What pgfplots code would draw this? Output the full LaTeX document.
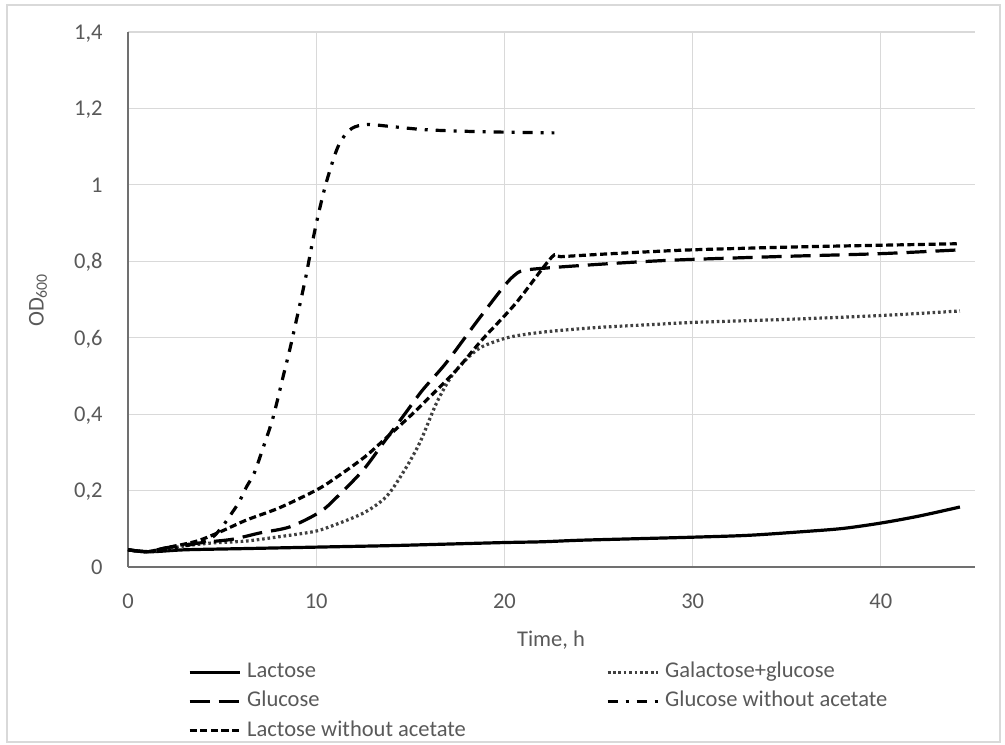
\documentclass[border=0pt]{standalone}
\usepackage{fontspec}
\setmainfont{Carlito}
\usepackage{pgfplots}
\pgfplotsset{compat=1.18}

\definecolor{txtgray}{HTML}{595959}
\definecolor{gridgray}{HTML}{D9D9D9}
\definecolor{axisgray}{HTML}{707070}

% growth curves: time (h) vs optical density at 600 nm
\pgfplotstableread{
t OD
0 0.045
1.2 0.040
3 0.045
6 0.048
9 0.051
11 0.053
14 0.056
17 0.060
20 0.064
22 0.066
24 0.070
27 0.074
30 0.078
33 0.083
36 0.093
38 0.101
40 0.115
42 0.133
44.2 0.157
}\lactose

\pgfplotstableread{
t OD
0 0.045
1 0.040
2 0.047
3 0.055
4.5 0.063
6.3 0.068
8.0 0.079
9.8 0.092
10.7 0.105
12.5 0.141
13.7 0.183
14.6 0.246
15.5 0.325
16.4 0.43
17.2 0.50
18.0 0.545
18.8 0.576
20.0 0.598
21.0 0.608
22.5 0.617
25 0.627
27.7 0.634
30 0.640
35 0.648
40 0.658
44.2 0.670
}\galglu

\pgfplotstableread{
t OD
0 0.045
1 0.040
2 0.050
3 0.058
4.35 0.066
5.6 0.073
7.0 0.089
8.6 0.105
10.2 0.144
11.1 0.183
12.5 0.254
13.6 0.327
14.7 0.400
15.65 0.463
16.9 0.534
18.5 0.640
19.9 0.730
20.5 0.762
21.0 0.776
22.4 0.783
25 0.792
27.7 0.800
30 0.805
35 0.813
40 0.820
44.2 0.830
}\glucose

\pgfplotstableread{
t OD
0 0.045
1 0.040
2 0.045
3 0.055
4 0.066
4.5 0.078
5.0 0.105
5.5 0.140
5.9 0.170
6.3 0.210
6.7 0.245
7.2 0.315
7.7 0.390
8.2 0.490
8.6 0.570
9.1 0.680
9.45 0.760
9.8 0.850
10.1 0.920
10.5 1.000
11.0 1.080
11.35 1.118
11.9 1.148
12.7 1.158
14.1 1.152
15.9 1.144
18.8 1.139
22.65 1.136
}\glunoac

\pgfplotstableread{
t OD
0 0.045
1 0.040
2 0.050
3 0.060
3.8 0.070
4.9 0.092
6.3 0.123
8.0 0.154
9.8 0.196
10.7 0.222
12.5 0.285
13.7 0.337
15.1 0.400
16.4 0.463
17.5 0.518
18.8 0.594
20.6 0.690
22.5 0.810
23 0.812
25 0.818
27.7 0.825
30 0.830
35 0.837
40 0.842
44.2 0.846
}\lacnoac

\begin{document}
\begin{tikzpicture}
\useasboundingbox (0,0) rectangle (502.5bp,372.5bp);
% chart frame
\draw[gridgray, line width=0.6bp] (3.5bp,1.5bp) rectangle (500bp,370bp);

\begin{axis}[
  at={(64bp,89bp)}, anchor=south west,
  scale only axis, width=423.5bp, height=267.5bp,
  xmin=0, xmax=45, ymin=0, ymax=1.4,
  axis lines*=left,
  axis line style={draw=axisgray, line width=0.8bp},
  xtick={0,10,20,30,40},
  ytick={0,0.2,0.4,0.6,0.8,1,1.2,1.4},
  yticklabels={0,{0,2},{0,4},{0,6},{0,8},1,{1,2},{1,4}},
  major tick length=0pt,
  tick style={draw=none},
  grid=major,
  major grid style={draw=gridgray, line width=0.6bp},
  font=\fontsize{11.3pt}{13.5pt}\selectfont,
  /pgf/number format/assume math mode=true,
  xticklabel style={anchor=north, inner sep=0pt, yshift=-13bp, text=txtgray},
  yticklabel style={anchor=east, inner sep=0pt, xshift=-12.5bp, text depth=0pt, text=txtgray},
  legend columns=2,
  legend cell align=left,
  legend style={
    at={(rel axis cs:0.0708,-0.1770)}, anchor=north west,
    draw=none, fill=none, inner sep=0pt, outer sep=0pt,
    row sep=4.1bp,
    nodes={inner sep=0pt, text height=8bp, text depth=2.5bp, text=txtgray},
    font=\fontsize{11.3pt}{13.5pt}\selectfont,
    /tikz/every odd column/.append style={column sep=3bp},
    /tikz/every even column/.append style={column sep=70bp},
  },
  legend image code/.code={\draw[#1] plot coordinates {(0bp,0bp) (25bp,0bp)};},
  every axis plot/.append style={line width=1.6bp, smooth, tension=0.5},
  clip=false,
]
\addplot[black] table[x=t, y=OD] {\lactose};
\addlegendentry{Lactose}
\addplot[black!75, dash pattern=on 1.3bp off 1.4bp] table[x=t, y=OD] {\galglu};
\addlegendentry{Galactose+glucose}
\addplot[black, dash pattern=on 10bp off 4.5bp] table[x=t, y=OD] {\glucose};
\addlegendentry{Glucose}
\addplot[black, dash pattern=on 5bp off 4bp on 1.5bp off 4bp] table[x=t, y=OD] {\glunoac};
\addlegendentry{Glucose without acetate}
\addplot[black, dash pattern=on 3.5bp off 1.8bp] table[x=t, y=OD] {\lacnoac};
\addlegendentry{Lactose without acetate}
\end{axis}

% axis titles
\node[anchor=base, text=txtgray, font=\fontsize{11.3pt}{13.5pt}\selectfont] at (275.5bp,49bp) {Time, h};
\node[rotate=90, text=txtgray, font=\fontsize{11.3pt}{13.5pt}\selectfont] at (19bp,222.5bp) {OD\textsubscript{600}};
\end{tikzpicture}
\end{document}
